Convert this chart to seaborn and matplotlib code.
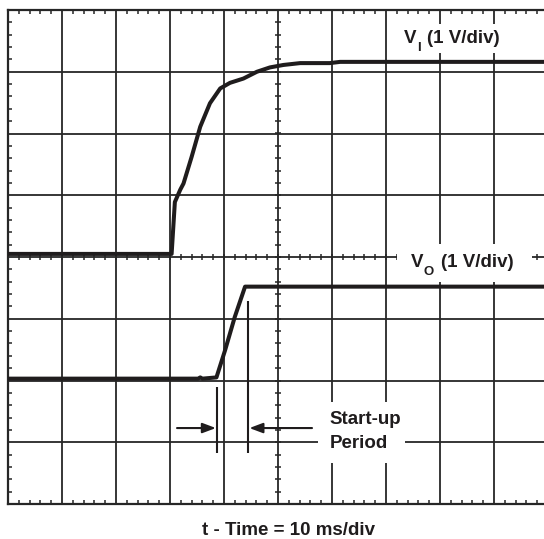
import numpy as np
import pandas as pd
import matplotlib
matplotlib.use("Agg")
import matplotlib.pyplot as plt
import seaborn as sns
from matplotlib.ticker import MultipleLocator
from matplotlib.patches import Rectangle
from matplotlib.transforms import offset_copy

# ---- data (in screen divisions: 10 horizontal x 8 vertical) ----
vi_t = [0.0, 3.03, 3.09, 3.19, 3.25, 3.40, 3.56, 3.74, 3.93, 4.11, 4.36, 4.61,
        4.85, 5.10, 5.41, 5.96, 6.15, 10.0]
vi_v = [4.05, 4.05, 4.89, 5.09, 5.19, 5.62, 6.11, 6.49, 6.73, 6.82, 6.89, 7.00,
        7.07, 7.11, 7.14, 7.14, 7.16, 7.16]

vo_t = [0.0, 3.52, 3.56, 3.60, 3.86, 4.02, 4.20, 4.39, 10.0]
vo_v = [2.03, 2.03, 2.05, 2.03, 2.05, 2.49, 3.03, 3.52, 3.52]

marker_t = [3.87, 4.44]
marker_top = [1.90, 3.28]
marker_bottom = [0.83, 0.83]
arrow_y = 1.23
arrow_tail = [3.13, 5.63]
arrow_tip = [3.85, 4.47]

label_vi = ("V", "I", "(1 V/div)")
label_vo = ("V", "O", "(1 V/div)")
label_start = ["Start-up", "Period"]
label_x = "t - Time = 10 ms/div"

# ---- style ----
sns.set_style("white")
plt.rcParams["font.family"] = ["Liberation Sans", "DejaVu Sans"]
plt.rcParams["font.weight"] = "bold"

INK = "#1f1c1d"
GRID = "#262626"
FS = 13.5
FS_SUB = 9.5

W, H = 544, 539
fig = plt.figure(figsize=(W / 100, H / 100), dpi=100)
ax = fig.add_axes([8 / W, 35 / H, 540 / W, 494 / H])
ax.set_xlim(0, 10)
ax.set_ylim(0, 8)
ax.set_axisbelow(True)

# grid
ax.xaxis.set_major_locator(MultipleLocator(1))
ax.yaxis.set_major_locator(MultipleLocator(1))
ax.xaxis.set_minor_locator(MultipleLocator(0.2))
ax.yaxis.set_minor_locator(MultipleLocator(0.2))
ax.grid(True, which="major", color=GRID, lw=1.3)
ax.tick_params(which="major", length=0, labelbottom=False, labelleft=False)
ax.tick_params(which="minor", direction="in", length=3.0, width=1.1, color=GRID,
               top=True, bottom=True, left=True, right=False)
for s in ["left", "top", "bottom"]:
    ax.spines[s].set_color(GRID)
    ax.spines[s].set_linewidth(1.6)
ax.spines["right"].set_visible(False)

# centre axes minor ticks
dx = 3.2 / 54
dy = 3.2 / 61.75
tx = np.arange(0.2, 10, 0.2)
ty = np.arange(0.2, 8, 0.2)
ax.vlines(tx, 4 - dy, 4 + dy, color=GRID, lw=1.1, zorder=1)
ax.hlines(ty, 5 - dx, 5 + dx, color=GRID, lw=1.1, zorder=1)

# white masks behind labels
for (x0, x1, y0, y1) in [(7.22, 9.56, 7.30, 7.77),
                         (7.20, 9.70, 3.60, 4.21),
                         (5.74, 7.35, 0.66, 1.65)]:
    ax.add_patch(Rectangle((x0, y0), x1 - x0, y1 - y0, facecolor="white",
                           edgecolor="none", zorder=1.6))

# traces
df_vi = pd.DataFrame({"t": vi_t, "v": vi_v})
df_vo = pd.DataFrame({"t": vo_t, "v": vo_v})
sns.lineplot(data=df_vi, x="t", y="v", sort=False, estimator=None, color=INK,
             lw=2.9, ax=ax, zorder=3, solid_joinstyle="round", solid_capstyle="butt")
sns.lineplot(data=df_vo, x="t", y="v", sort=False, estimator=None, color=INK,
             lw=2.9, ax=ax, zorder=3, solid_joinstyle="round", solid_capstyle="butt")
ax.set_xlabel("")
ax.set_ylabel("")

# start-up markers
ax.vlines(marker_t, marker_bottom, marker_top, color=INK, lw=1.5, zorder=3)
for tail, tip in zip(arrow_tail, arrow_tip):
    ax.annotate("", xy=(tip, arrow_y), xytext=(tail, arrow_y),
                arrowprops=dict(arrowstyle="-|>,head_length=0.8,head_width=0.3",
                                mutation_scale=10, lw=1.5, color=INK,
                                shrinkA=0, shrinkB=0), zorder=3)

# labels with subscripts
renderer = fig.canvas.get_renderer()


def sub_label(x, y, parts):
    main, sub, rest = parts
    t1 = ax.text(x, y, main, fontsize=FS, fontweight="bold", color=INK,
                 va="baseline", ha="left", zorder=4)
    w1 = t1.get_window_extent(renderer).width
    t2 = ax.text(x, y, sub, fontsize=FS_SUB, fontweight="bold", color=INK,
                 va="baseline", ha="left", zorder=4,
                 transform=offset_copy(ax.transData, fig, x=w1 + 0.5, y=-8,
                                       units="dots"))
    w2 = t2.get_window_extent(renderer).width
    ax.text(x, y, rest, fontsize=FS, fontweight="bold", color=INK,
            va="baseline", ha="left", zorder=4,
            transform=offset_copy(ax.transData, fig, x=w1 + w2 + 7.5, y=0,
                                  units="dots"))


sub_label(7.33, 7.47, label_vi)
sub_label(7.46, 3.84, label_vo)

ax.text(5.96, 1.30, label_start[0], fontsize=FS, fontweight="bold", color=INK,
        va="baseline", ha="left", zorder=4)
ax.text(5.96, 0.91, label_start[1], fontsize=FS, fontweight="bold", color=INK,
        va="baseline", ha="left", zorder=4)
fig.text(289 / W, 4 / H, label_x, fontsize=FS, fontweight="bold", color=INK,
         va="baseline", ha="center")

fig.savefig("out.png", dpi=100, facecolor="white")
